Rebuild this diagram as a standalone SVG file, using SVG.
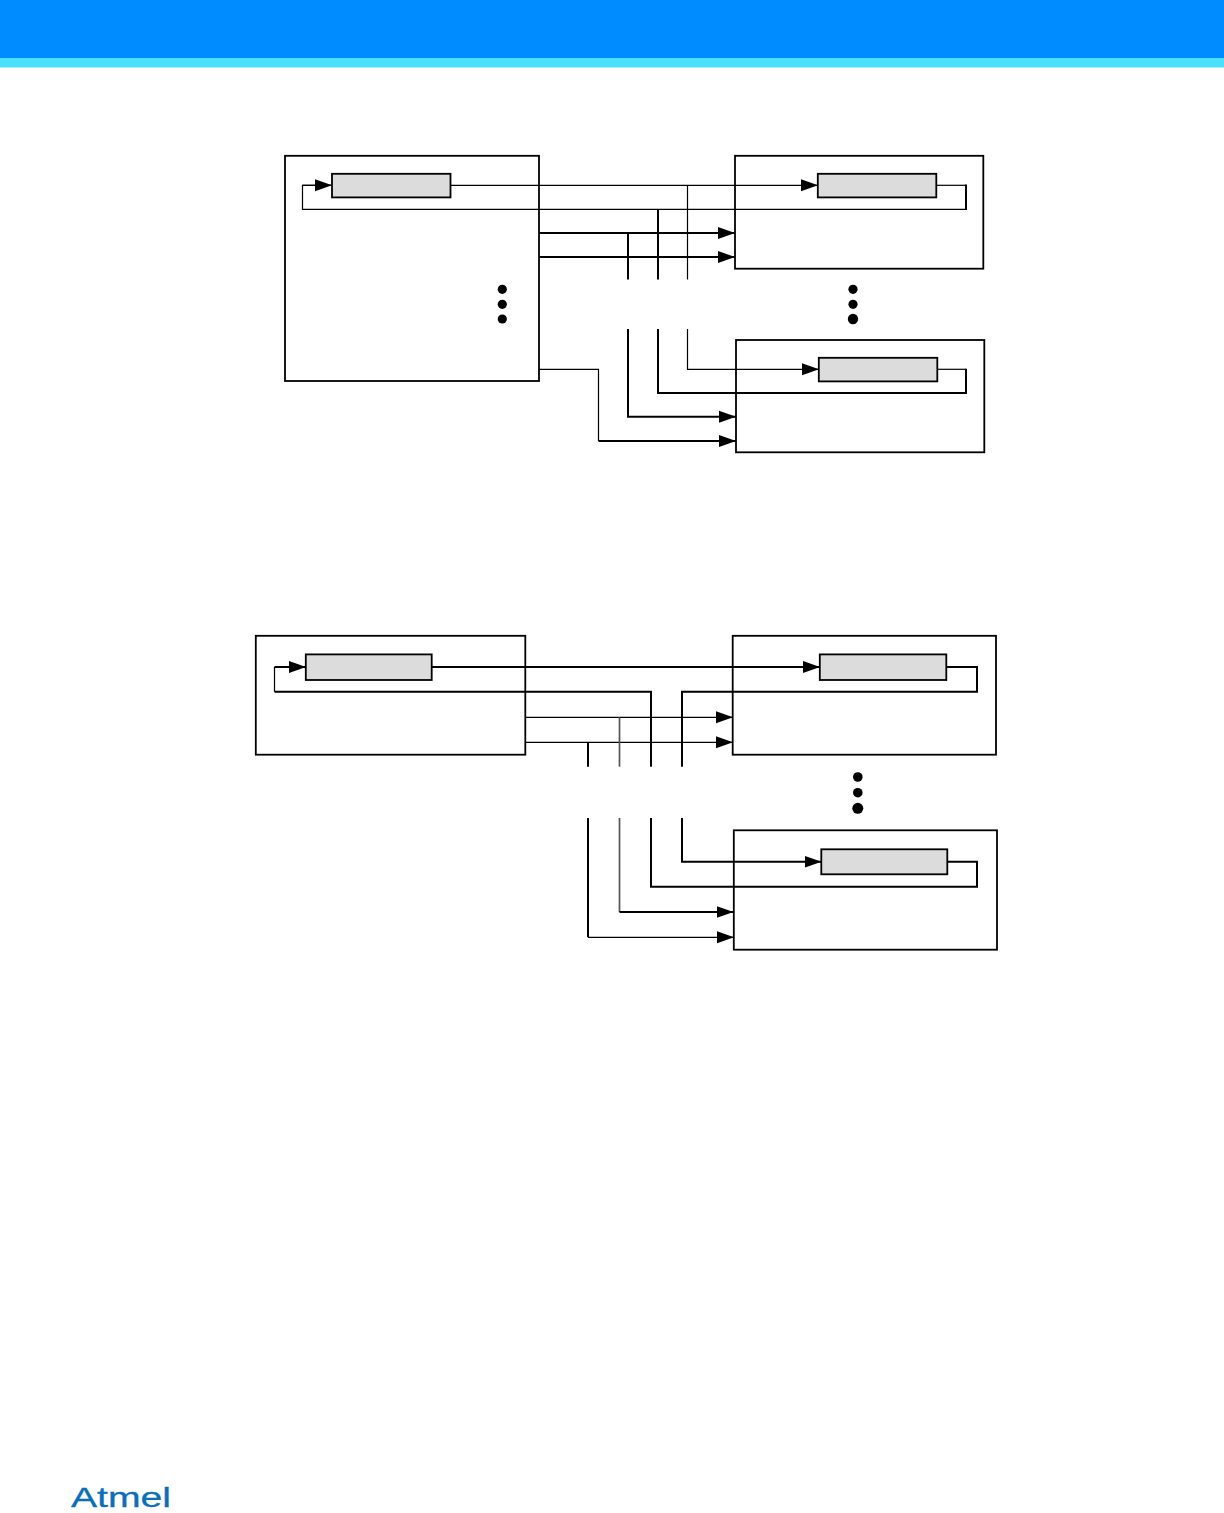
<svg xmlns="http://www.w3.org/2000/svg" width="1224" height="1513" viewBox="0 0 1224 1513">
<style>
.box{fill:#fff;stroke:#000;stroke-width:1.8}
.reg{fill:#dcdcdc;stroke:#000;stroke-width:1.8}
.w{fill:none;stroke:#000;stroke-width:1.2}
.m{fill:none;stroke:#000;stroke-width:2}
.g{fill:none;stroke:#555;stroke-width:1.7}
.logo{font-family:"Liberation Sans",Arial,sans-serif;font-size:28px;fill:#0a6fb8;stroke:#0a6fb8;stroke-width:.3}
</style>
<defs>
<marker id="ah" markerUnits="userSpaceOnUse" markerWidth="18" markerHeight="13" refX="17" refY="6.5" orient="auto"><path d="M0 0.5L17 6.5L0 12.5Z" fill="#000"/></marker>
</defs>
<g id="header">
<rect x="0" y="0" width="1224" height="58" fill="#008cff"/>
<rect x="0" y="58" width="1224" height="9.5" fill="#4ce0ff"/>
</g>
<g id="fig1-master"><rect class="box" x="285" y="155.8" width="254" height="225.2"/></g>
<g id="fig1-slave1"><rect class="box" x="735" y="155.8" width="248.3" height="112.9"/></g>
<g id="fig1-slave2"><rect class="box" x="736" y="340" width="248.3" height="112.3"/></g>
<g id="fig2-master"><rect class="box" x="255.8" y="635.8" width="269.5" height="118.9"/></g>
<g id="fig2-slave1"><rect class="box" x="732.7" y="635.8" width="263.3" height="118.9"/></g>
<g id="fig2-slave2"><rect class="box" x="733.8" y="830.3" width="263.2" height="119.4"/></g>
<g id="connectors">
<path class="w" d="M450.5 185.3H818" marker-end="url(#ah)"/>
<path class="w" d="M332 185.3H302.5V209.3H966"/>
<path class="w" d="M936.3 185.3H966"/>
<path class="m" d="M966 184.5V210"/>
<path class="w" d="M302.5 185.3H332" marker-end="url(#ah)"/>
<path class="m" d="M539 233H735" marker-end="url(#ah)"/>
<path class="m" d="M539 257H735" marker-end="url(#ah)"/>
<path class="m" d="M628 233V279.5"/>
<path class="m" d="M658 209V279.5"/>
<path class="w" d="M687.5 185.3V279.5"/>
<path class="w" d="M687.5 329V369.3H819" marker-end="url(#ah)"/>
<path class="m" d="M658 329V393H966V368.7"/>
<path class="w" d="M966 369.3H937.3"/>
<path class="m" d="M628 329V416.7H736" marker-end="url(#ah)"/>
<path class="w" d="M539 369.3H598.5V441"/>
<path class="m" d="M598.5 441H736" marker-end="url(#ah)"/>
<path class="m" d="M431.7 667H820" marker-end="url(#ah)"/>
<path class="w" d="M274.5 691.7V667"/>
<path class="m" d="M274.5 667H306" marker-end="url(#ah)"/>
<path class="m" d="M274.5 691.7H651V766.7"/>
<path class="m" d="M682 766.7V691.7H977V667H946.3"/>
<path class="w" d="M525.3 717.3H733" marker-end="url(#ah)"/>
<path class="w" d="M525.3 742.3H733" marker-end="url(#ah)"/>
<path class="g" d="M619.5 717.3V766.7"/>
<path class="m" d="M588 742.3V766.7"/>
<path class="m" d="M682 818V861.7H821.5" marker-end="url(#ah)"/>
<path class="m" d="M947.3 861.7H977V886.7H651V818"/>
<path class="g" d="M619.5 818V912"/>
<path class="m" d="M619.5 912H733.5" marker-end="url(#ah)"/>
<path class="m" d="M588 818V937.3"/>
<path class="w" d="M588 937.3H734" marker-end="url(#ah)"/>
</g>
<g id="fig1-reg0"><rect class="reg" x="332" y="173.8" width="118.5" height="23.6"/></g>
<g id="fig1-reg1"><rect class="reg" x="817.8" y="173.8" width="118.5" height="23.6"/></g>
<g id="fig1-reg2"><rect class="reg" x="818.8" y="357.8" width="118.5" height="23.6"/></g>
<g id="fig2-reg0"><rect class="reg" x="305.8" y="654.4" width="125.9" height="25.6"/></g>
<g id="fig2-reg1"><rect class="reg" x="819.8" y="654.4" width="126.5" height="25.6"/></g>
<g id="fig2-reg2"><rect class="reg" x="821.3" y="849.3" width="126" height="25"/></g>
<g id="dots">
<circle cx="502.3" cy="289.3" r="4.6"/><circle cx="502.3" cy="304.3" r="4.6"/><circle cx="502.3" cy="319" r="4.6"/>
<circle cx="853" cy="289.3" r="4.6"/><circle cx="853" cy="304.3" r="4.6"/><circle cx="853" cy="319" r="5.2"/>
<circle cx="857.8" cy="777" r="4.8"/><circle cx="857.8" cy="792.7" r="4.8"/><circle cx="857.8" cy="808.3" r="5.5"/>
</g>
<g id="logo"><text class="logo" x="71" y="1506.5" textLength="100" lengthAdjust="spacingAndGlyphs">Atmel</text></g>
</svg>
